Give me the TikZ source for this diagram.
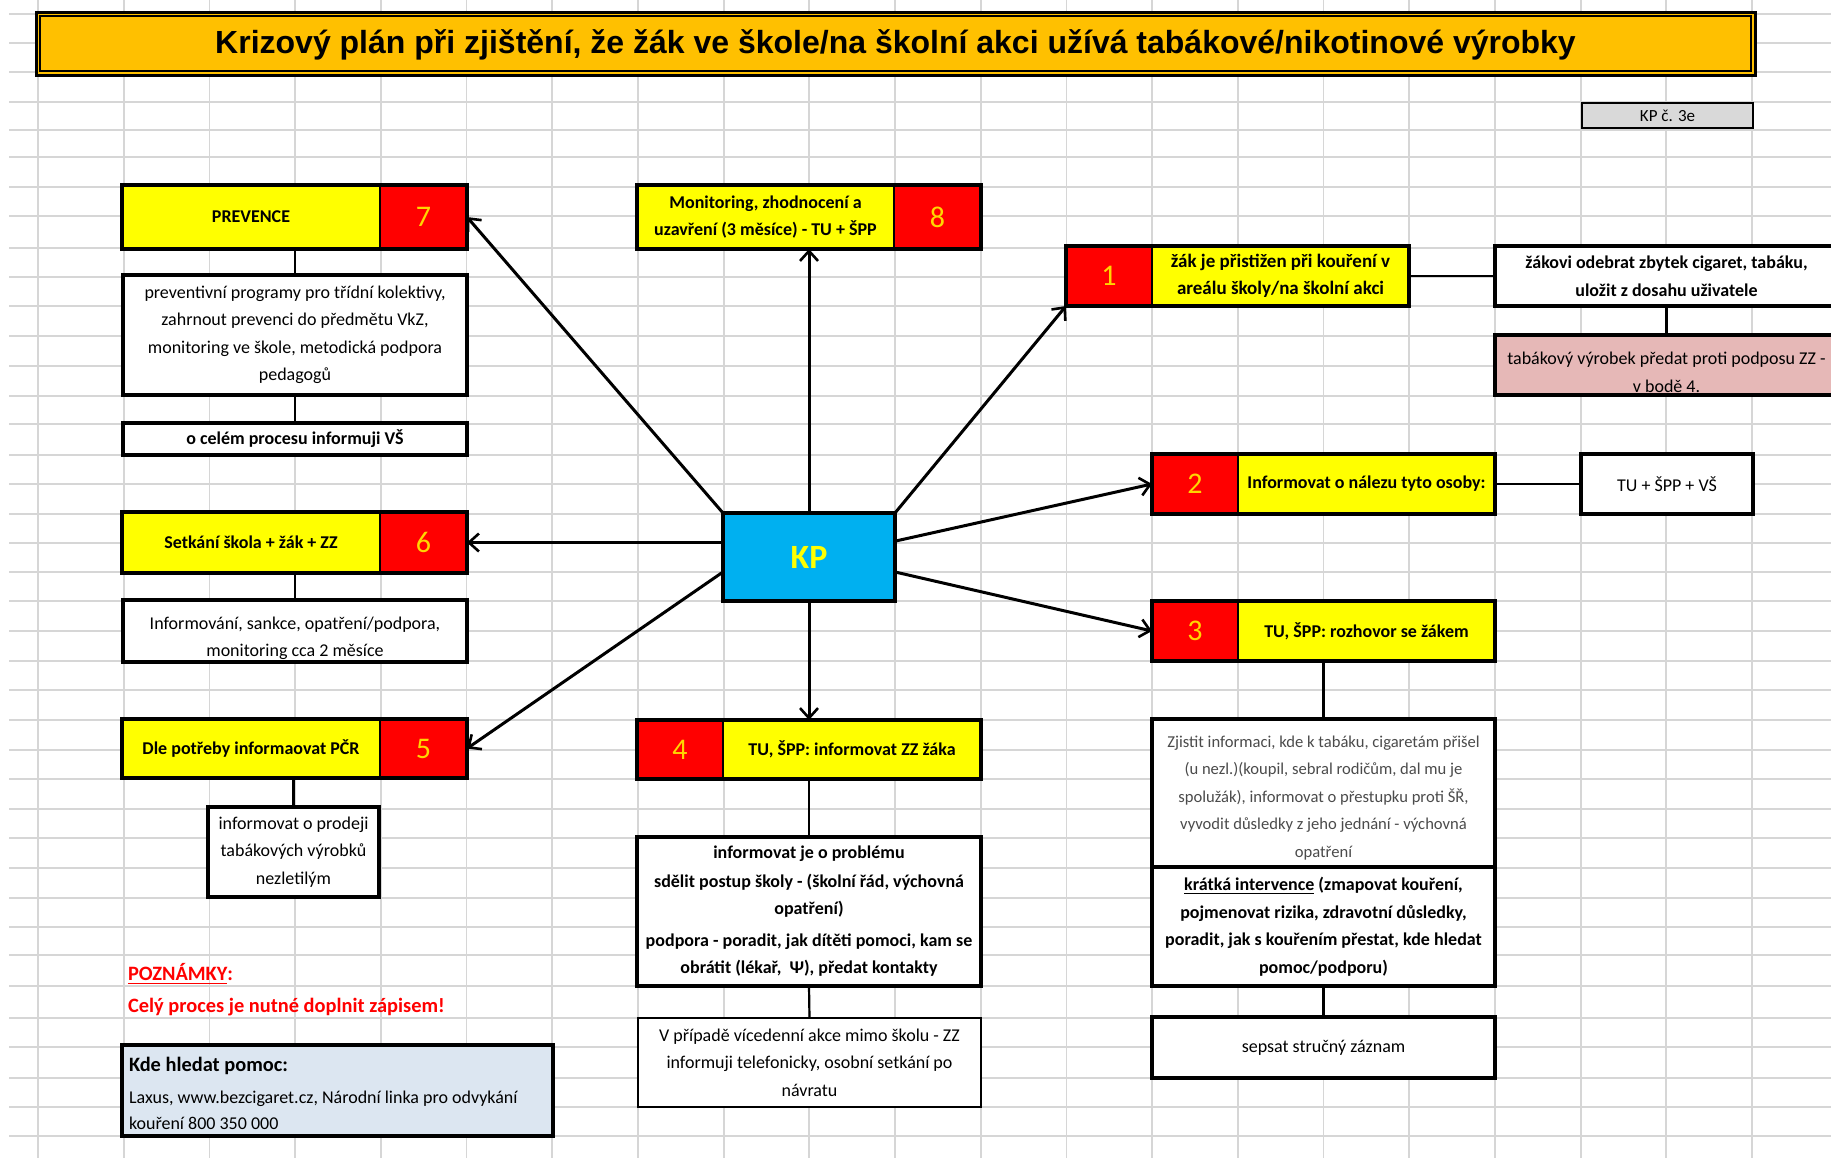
\documentclass[tikz,border=0pt]{standalone}
\usepackage{fontspec}
\setmainfont{Carlito}
\newfontfamily\titlefont{Liberation Sans}
\usetikzlibrary{arrows.meta,calc}

\definecolor{gridc}{RGB}{214,214,214}
\definecolor{titleor}{RGB}{255,192,0}
\definecolor{boxyel}{RGB}{255,255,0}
\definecolor{boxred}{RGB}{255,0,0}
\definecolor{numyel}{RGB}{255,214,0}
\definecolor{kpblue}{RGB}{0,176,240}
\definecolor{kptext}{RGB}{255,255,0}
\definecolor{pinkfill}{RGB}{230,184,183}
\definecolor{helpfill}{RGB}{220,230,241}
\definecolor{codegrey}{RGB}{217,217,217}
\definecolor{notered}{RGB}{255,0,0}
\definecolor{softtext}{RGB}{75,75,75}

\newcommand\fsbody{\fontsize{9}{13.75}\selectfont}
\newcommand\fsbodyb{\fontsize{9}{13.75}\selectfont\bfseries}
\newcommand\fsone{\fontsize{9.5}{13.5}\selectfont\bfseries}
\newcommand\fssmall{\fontsize{8.3}{13.75}\selectfont}
\newcommand\fsnum{\fontsize{15}{17}\selectfont}
\newcommand\fskp{\fontsize{17}{20}\selectfont\bfseries}
\newcommand\fsnote{\fontsize{10.2}{13}\selectfont\bfseries}
\newcommand\fstitle{\titlefont\fontsize{16}{19}\selectfont\bfseries}
\newcommand\fscode{\fontsize{8.5}{10}\selectfont}
% invisible strut that lowers a text block inside its cell
\newcommand\droptext[1]{\rule{0pt}{#1}}

% a rectangular cell spanning (x1,y1)--(x2,y2), in pixel units
% #1 style, #2 name, #3 x1, #4 y1, #5 x2, #6 y2, #7 text
\newcommand\cellbox[7]{%
  \pgfmathsetmacro\cellw{(#5-#3)*0.5}%
  \pgfmathsetmacro\cellh{(#6-#4)*0.5}%
  \node[#1, minimum width=\cellw pt, minimum height=\cellh pt]
    (#2) at ({(#3+#5)/2},{(#4+#6)/2}) {#7};}

\begin{document}
\begin{tikzpicture}[x=0.5pt, y=-0.5pt,
  gridline/.style={draw=gridc, line width=0.9pt},
  cell/.style={draw=black, line width=1.6pt, inner sep=0pt, outer sep=0pt,
    align=center, fill=white, font=\fsbody},
  thincell/.style={cell, line width=0.9pt},
  ycell/.style={cell, line width=1.2pt, fill=boxyel, font=\fsbodyb},
  rcell/.style={cell, line width=1.2pt, fill=boxred, text=numyel, font=\fsnum},
  frame/.style={draw=black, line width=2.1pt},
  conn/.style={draw=black, line width=1.1pt},
  arr/.style={draw=black, line width=1.5pt,
    -{Straight Barb[length=5pt,width=9pt,line width=1.3pt]}},
  textonly/.style={inner sep=0pt, outer sep=0pt}
]
\useasboundingbox (0,0) rectangle (1831,1158);
\fill[white] (0,0) rectangle (1831,1158);

% spreadsheet grid
\foreach \gx in {0,...,20}
  \draw[gridline] ({38+85.7*\gx},0) -- ({38+85.7*\gx},1158);
\foreach \gy in {14,43,72,102,130,157,187,216,248,277,306,336,366,396,424,455,
                 484,514,543,572,601,631,661,690,720,750,779,809,838,868,898,
                 927,955,986,1018,1047,1078,1107,1136}
  \draw[gridline] (9,\gy) -- (1831,\gy);

% title bar
\cellbox{cell, line width=1.5pt, fill=titleor}{title}{36}{12}{1755}{75}{}
\draw[line width=0.8pt] (40,16) rectangle (1751,71);
\node[textonly, font=\fstitle, anchor=base] (titletext) at (895.5,53)
  {Krizový plán při zjištění, že žák ve škole/na školní akci užívá tabákové/nikotinové výrobky};

% plan code
\cellbox{cell, line width=0.9pt, fill=codegrey, font=\fscode}{code}{1582}{103}{1753}{128}{KP č. 3e}

% central node
\cellbox{cell, fill=kpblue, text=kptext, font=\fskp}{kp}{723}{513}{895}{601}{KP}

% 7 prevention
\cellbox{ycell}{b7y}{122}{185}{380}{249}{PREVENCE}
\cellbox{rcell}{b7r}{380}{185}{467}{249}{7}
\draw[frame] (b7y.north west) rectangle (b7r.south east);
\cellbox{cell}{t7}{123}{275}{467}{395}
  {preventivní programy pro třídní kolektivy,\\
   zahrnout prevenci do předmětu VkZ,\\
   monitoring ve škole, metodická podpora\\
   pedagogů}
\cellbox{cell, font=\fsbodyb}{t7b}{123}{423}{467}{455}{o celém procesu informuji VŠ}

% 8 monitoring
\cellbox{ycell}{b8y}{637}{185}{894}{249}{Monitoring, zhodnocení a\\uzavření (3 měsíce) - TU + ŠPP}
\cellbox{rcell}{b8r}{894}{185}{981}{249}{8}
\draw[frame] (b8y.north west) rectangle (b8r.south east);

% 1 detection
\cellbox{rcell}{b1r}{1066}{246}{1152}{306}{1}
\cellbox{ycell, font=\fsone}{b1y}{1152}{246}{1409}{306}{žák je přistižen při kouření v\\areálu školy/na školní akci}
\draw[frame] (b1r.north west) rectangle (b1y.south east);
\cellbox{cell, font=\fsbodyb}{r1}{1495}{246}{1838}{306}{žákovi odebrat zbytek cigaret, tabáku,\\uložit z dosahu uživatele}
\cellbox{cell, fill=pinkfill}{r1b}{1495}{335}{1838}{395}{\droptext{13.5pt}tabákový výrobek předat proti podposu ZZ -\\v bodě 4.}

% 2 informing
\cellbox{rcell}{b2r}{1152}{454}{1238}{514}{2}
\cellbox{ycell}{b2y}{1238}{454}{1495}{514}{Informovat o nálezu tyto osoby:}
\draw[frame] (b2r.north west) rectangle (b2y.south east);
\cellbox{cell}{r2}{1581}{454}{1753}{514}{TU + ŠPP + VŠ}

% 3 interview
\cellbox{rcell}{b3r}{1152}{601}{1238}{661}{3}
\cellbox{ycell}{b3y}{1238}{601}{1495}{661}{TU, ŠPP: rozhovor se žákem}
\draw[frame] (b3r.north west) rectangle (b3y.south east);
\cellbox{cell, font=\fssmall, text=softtext, line width=1.8pt}{t3a}{1152}{719}{1495}{867}
  {\droptext{10.5pt}Zjistit informaci, kde k tabáku, cigaretám přišel\\
   (u nezl.)(koupil, sebral rodičům, dal mu je\\
   spolužák), informovat o přestupku proti ŠŘ,\\
   vyvodit důsledky z jeho jednání - výchovná\\
   opatření}
\cellbox{cell, font=\fsbodyb, line width=1.8pt}{t3b}{1152}{867}{1495}{986}
  {\underline{krátká intervence} (zmapovat kouření,\\
   pojmenovat rizika, zdravotní důsledky,\\
   poradit, jak s kouřením přestat, kde hledat\\
   pomoc/podporu)}
\cellbox{cell, line width=1.8pt}{t3c}{1152}{1017}{1495}{1078}{sepsat stručný záznam}

% 4 legal guardians
\cellbox{rcell}{b4r}{637}{720}{723}{779}{4}
\cellbox{ycell}{b4y}{723}{720}{981}{779}{TU, ŠPP: informovat ZZ žáka}
\draw[frame] (b4r.north west) rectangle (b4y.south east);
\cellbox{cell, font=\fsbodyb, line width=1.8pt}{t4}{637}{837}{981}{986}
  {informovat je o problému\\[0.5pt]
   sdělit postup školy - (školní řád, výchovná\\
   opatření)\\[2pt]
   podpora - poradit, jak dítěti pomoci, kam se\\
   obrátit (lékař,~~Ψ), předat kontakty}
\cellbox{thincell}{t4b}{638}{1018}{981}{1107}
  {V případě vícedenní akce mimo školu - ZZ\\
   informuji telefonicky, osobní setkání po\\
   návratu}

% 5 police
\cellbox{ycell}{b5y}{122}{719}{380}{778}{Dle potřeby informaovat PČR}
\cellbox{rcell}{b5r}{380}{719}{467}{778}{5}
\draw[frame] (b5y.north west) rectangle (b5r.south east);
\cellbox{cell}{t5}{208}{807}{379}{897}{informovat o prodeji\\tabákových výrobků\\nezletilým}

% 6 meeting
\cellbox{ycell}{b6y}{122}{512}{380}{573}{Setkání škola + žák + ZZ}
\cellbox{rcell}{b6r}{380}{512}{467}{573}{6}
\draw[frame] (b6y.north west) rectangle (b6r.south east);
\cellbox{cell}{t6}{123}{600}{467}{662}{\droptext{13.5pt}Informování, sankce, opatření/podpora,\\monitoring cca 2 měsíce}

% notes
\node[textonly, font=\fsnote, text=notered, anchor=base west] (notehead) at (128,980) {\underline{POZNÁMKY}:};
\node[textonly, font=\fsnote, text=notered, anchor=base west] (notebody) at (128,1012) {Celý proces je nutné doplnit zápisem!};

% where to get help
\cellbox{cell, fill=helpfill}{help}{122}{1045}{553}{1136}{}
\node[textonly, font=\fsnote, anchor=base west] (helphead) at (129,1071) {Kde hledat pomoc:};
\node[textonly, font=\fsbody, anchor=base west] (helpline1) at (129,1103) {Laxus, www.bezcigaret.cz, Národní linka pro odvykání};
\node[textonly, font=\fsbody, anchor=base west] (helpline2) at (129,1129) {kouření 800 350 000};

% plain connectors
\draw[conn] (t7.north |- b7y.south) -- (t7.north);
\draw[conn] (t7.south) -- (t7b.north);
\draw[conn] (t6.north |- b6y.south) -- (t6.north);
\draw[conn] (t5.north |- b5y.south) -- (t5.north);
\draw[conn] (t4.north |- b4y.south) -- (t4.north);
\draw[conn] (t4.south) -- (t4b.north);
\draw[conn] (t3a.north |- b3y.south) -- (t3a.north);
\draw[conn] (t3b.south) -- (t3c.north);
\draw[conn] (b1y.east) -- (r1.west |- b1y.east);
\draw[conn] (r1.south) -- (r1b.north);
\draw[conn] (b2y.east) -- (r2.west |- b2y.east);

% arrows from the crisis plan
\draw[arr] (kp.north west) -- (b7r.east);
\draw[arr] (kp.north) -- (kp.north |- b8y.south);
\draw[arr] (kp.north east) -- (b1r.south west);
\draw[arr] ($(kp.north east)!0.32!(kp.south east)$) -- (b2r.west);
\draw[arr] ($(kp.north east)!0.67!(kp.south east)$) -- (b3r.west);
\draw[arr] (kp.south) -- (kp.south |- b4y.north);
\draw[arr] ($(kp.north west)!0.67!(kp.south west)$) -- (b5r.east);
\draw[arr] (b6r.east -| kp.west) -- (b6r.east);
\end{tikzpicture}
\end{document}
